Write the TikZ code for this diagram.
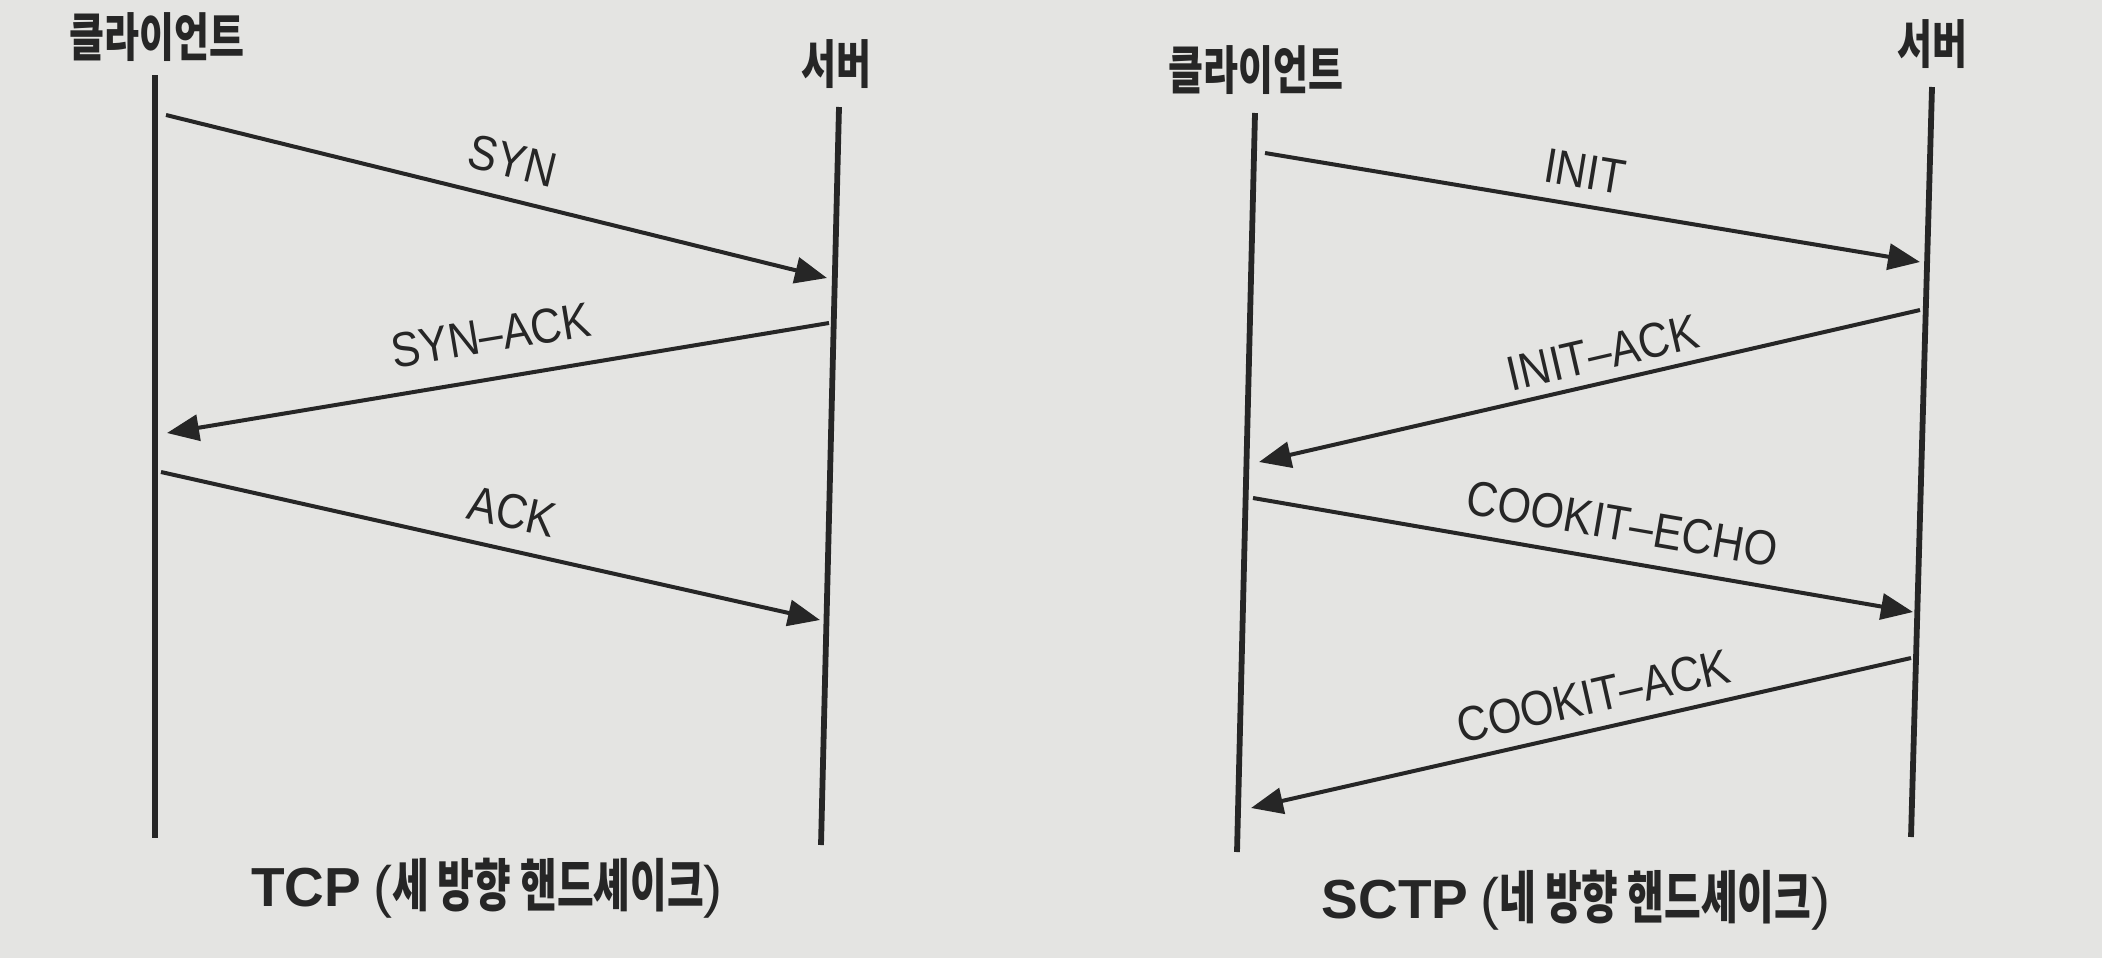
\documentclass[tikz,border=0pt]{standalone}
\usepackage{fontspec}
\setmainfont{Liberation Sans}
\newfontfamily\kr[FakeStretch=0.73]{Noto Sans CJK KR}
\newfontfamily\krc[FakeStretch=0.7]{Noto Sans CJK KR}
\newfontfamily\lab[FakeStretch=0.88]{Liberation Sans}
\usetikzlibrary{arrows.meta}
\definecolor{paper}{HTML}{E4E4E2}
\definecolor{ink}{HTML}{262626}
\tikzset{
  lifeline/.style={draw=ink, line width=2.9pt},
  msg/.style={draw=ink, line width=2pt, -{Triangle[length=16pt,width=13pt]}},
  msglabel/.style={sloped, inner sep=0pt, text=ink, font=\lab\fontsize{24.5}{28}\selectfont},
  actor/.style={inner sep=0pt, text=ink, font=\kr\bfseries\fontsize{26}{30}\selectfont},
  caption/.style={inner sep=0pt, text=ink, font=\krc\bfseries\fontsize{28.5}{33}\selectfont}
}
\newcommand{\capt}[2]{{\rmfamily\bfseries\fontsize{27.5}{32}\selectfont #1}\hspace{6pt}{\rmfamily\mdseries\fontsize{28.5}{33}\selectfont(}#2{\rmfamily\mdseries\fontsize{28.5}{33}\selectfont)}}
\begin{document}
\begin{tikzpicture}[x=0.5pt,y=-0.5pt]
\useasboundingbox (0,0) rectangle (2102,958);
\fill[paper] (0,0) rectangle (2102,958);

% ---------- TCP ----------
\coordinate (cT) at (155,75);  \coordinate (cB) at (155,838);
\coordinate (sT) at (839,107); \coordinate (sB) at (821,845);
\node[actor] (cLab) at (157,37) {클라이언트};
\node[actor] (sLab) at (836,64) {서버};
\draw[lifeline] (cT) -- (cB);
\draw[lifeline] (sT) -- (sB);

\coordinate (syn1) at (166,115); \coordinate (syn2) at (827,278);
\coordinate (sa1) at (829,323);  \coordinate (sa2) at (167,433);
\coordinate (ack1) at (161,472); \coordinate (ack2) at (820,620);
\draw[msg] (syn1) -- node[msglabel, pos=0.51, above=9.5pt] (synL) {SYN} (syn2);
\draw[msg] (sa1) -- node[msglabel, pos=0.5, above=12pt] (saL) {SYN–ACK} (sa2);
\draw[msg] (ack1) -- node[msglabel, pos=0.52, above=9.5pt] (ackL) {ACK} (ack2);
\node[caption] (tcpCap) at (487,888) {\capt{TCP}{세 방향 핸드셰이크}};

% ---------- SCTP ----------
\coordinate (cT2) at (1255,113); \coordinate (cB2) at (1237,852);
\coordinate (sT2) at (1932,87);  \coordinate (sB2) at (1911,837);
\node[actor] (cLab2) at (1256,70) {클라이언트};
\node[actor] (sLab2) at (1932,44) {서버};
\draw[lifeline] (cT2) -- (cB2);
\draw[lifeline] (sT2) -- (sB2);

\coordinate (in1) at (1265,153); \coordinate (in2) at (1920,262);
\coordinate (ia1) at (1920,310); \coordinate (ia2) at (1259,462);
\coordinate (ce1) at (1253,498); \coordinate (ce2) at (1913,612);
\coordinate (ca1) at (1911,658); \coordinate (ca2) at (1251,808);
\draw[msg] (in1) -- node[msglabel, pos=0.48, above=7.5pt] (inL) {INIT} (in2);
\draw[msg] (ia1) -- node[msglabel, pos=0.47, above=5pt] (iaL) {INIT–ACK} (ia2);
\draw[msg] (ce1) -- node[msglabel, pos=0.55, above=9pt] (ceL) {COOKIT–ECHO} (ce2);
\draw[msg] (ca1) -- node[msglabel, pos=0.47, above=7pt] (caL) {COOKIT–ACK} (ca2);
\node[caption] (sctpCap) at (1576,900) {\capt{SCTP}{네 방향 핸드셰이크}};
\end{tikzpicture}
\end{document}
